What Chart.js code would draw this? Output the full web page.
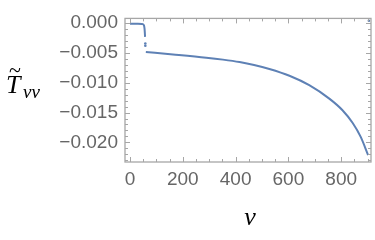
<!DOCTYPE html>
<html>
<head>
<meta charset="utf-8">
<script src="https://cdn.jsdelivr.net/npm/chart.js@4"></script>
<style>
  body { margin: 0; background: #fff; }
  #wrap { width: 375px; height: 240px; }
</style>
</head>
<body>
<div id="wrap"><canvas id="plot" width="375" height="240"></canvas></div>
<script>
// values
const earlyV = [0, 15, 30, 45, 50, 53, 55, 56, 57];
const earlyT = [-0.0001, -0.0001, -0.0001, -0.00012, -0.0002, -0.0004, -0.0009, -0.0015, -0.0023];

const mainV = [60, 163, 289, 352, 415, 470, 528, 604, 679, 755, 805, 843, 874, 902];
const mainT = [-0.00484, -0.00525, -0.00579, -0.00612, -0.00653, -0.00702, -0.00769, -0.00883, -0.01041, -0.01267, -0.01462, -0.01672, -0.01909, -0.02213];

const strayV = [58, 58, 905];
const strayT = [-0.0034, -0.0038, 0.0004];

const xMajor = [0, 200, 400, 600, 800];
const yMajor = [0, -0.005, -0.010, -0.015, -0.020];

const blue = '#5E81B5';
const frameGray = '#a6a6a6';

const toPts = (xs, ys) => xs.map((x, i) => ({ x: x, y: ys[i] }));

const linePts = toPts(earlyV, earlyT).concat([{ x: 58.5, y: null }], toPts(mainV, mainT));

// Mathematica-like frame with inward ticks on all four sides, plus axis titles
const framePlugin = {
  id: 'frame',
  afterDraw(chart) {
    const { ctx, chartArea: a, scales } = chart;
    const xs = scales.x, ys = scales.y;
    ctx.save();
    ctx.strokeStyle = frameGray;
    ctx.lineWidth = 1.3;
    ctx.strokeRect(a.left, a.top, a.right - a.left, a.bottom - a.top);

    ctx.lineWidth = 1;
    ctx.beginPath();
    for (let v = 0; v <= 900; v += 50) {
      const px = Math.round(xs.getPixelForValue(v)) + 0.5;
      const len = v % 200 === 0 ? 5 : 3;
      ctx.moveTo(px, a.bottom); ctx.lineTo(px, a.bottom - len);
      ctx.moveTo(px, a.top); ctx.lineTo(px, a.top + len);
    }
    for (let k = 0; k >= -23; k--) {
      const v = k * 0.001;
      const py = Math.round(ys.getPixelForValue(v)) + 0.5;
      const len = k % 5 === 0 ? 5 : 3;
      ctx.moveTo(a.left, py); ctx.lineTo(a.left + len, py);
      ctx.moveTo(a.right, py); ctx.lineTo(a.right - len, py);
    }
    ctx.stroke();

    // axis titles
    ctx.fillStyle = '#000';
    ctx.textBaseline = 'alphabetic';
    ctx.font = 'italic 26px "Liberation Serif"';
    ctx.textAlign = 'left';
    ctx.fillText('T', 6, 93);
    ctx.font = '22px "Liberation Serif"';
    ctx.fillText('~', 9, 77);
    ctx.font = 'italic 19px "Liberation Serif"';
    ctx.fillText('vv', 23, 98);

    ctx.font = 'italic 26px "Liberation Serif"';
    ctx.textAlign = 'center';
    ctx.fillText('v', 250, 225);
    ctx.restore();
  }
};

const tickFont = { family: 'Liberation Sans', size: 19 };
const tickColor = '#666666';

new Chart(document.getElementById('plot'), {
  type: 'scatter',
  data: {
    datasets: [
      {
        data: linePts,
        showLine: true,
        borderColor: blue,
        borderWidth: 2,
        pointRadius: 0,
        cubicInterpolationMode: 'monotone',
        spanGaps: false
      },
      {
        data: toPts(strayV, strayT),
        showLine: false,
        backgroundColor: blue,
        borderWidth: 0,
        pointRadius: 1.3
      }
    ]
  },
  options: {
    responsive: false,
    animation: false,
    layout: { padding: { top: 9, right: 3, left: 0, bottom: 0 } },
    plugins: { legend: { display: false }, tooltip: { enabled: false } },
    scales: {
      x: {
        type: 'linear',
        min: -19,
        max: 913,
        afterFit: s => { s.height = 78; },
        afterBuildTicks: s => { s.ticks = xMajor.map(v => ({ value: v })); },
        grid: { display: false, drawTicks: false },
        border: { display: false },
        ticks: { font: tickFont, color: tickColor, padding: 6, maxRotation: 0 }
      },
      y: {
        type: 'linear',
        min: -0.0233,
        max: 0.0008,
        afterFit: s => { s.width = 125; },
        afterBuildTicks: s => { s.ticks = yMajor.map(v => ({ value: v })); },
        grid: { display: false, drawTicks: false },
        border: { display: false },
        ticks: {
          font: tickFont,
          color: tickColor,
          padding: 7,
          callback: v => (Math.abs(v) < 1e-9 ? '0.000' : '\u2212' + Math.abs(v).toFixed(3))
        }
      }
    }
  },
  plugins: [framePlugin]
});
</script>
</body>
</html>
